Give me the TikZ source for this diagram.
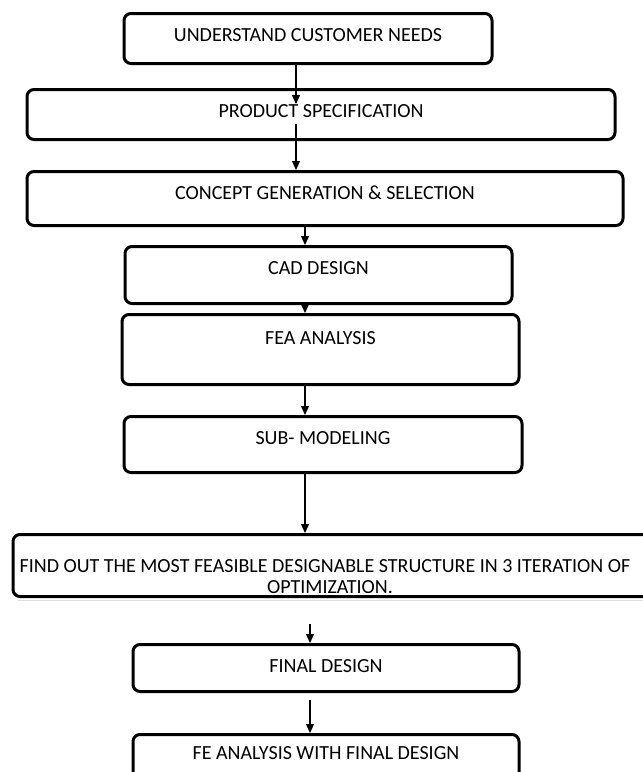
\documentclass[tikz,border=0pt]{standalone}
\usepackage{fontspec}
\setmainfont{Carlito}
\usepackage{tikz}
\usetikzlibrary{arrows.meta}
\tikzset{
  stage/.style={draw=black, line width=3pt, rounded corners=7pt, inner sep=0pt,
    text height=28pt, align=center, font=\fontsize{20}{21}\selectfont},
  flow/.style={line width=1.2pt, -{Triangle[length=9pt,width=8pt]}}
}
\begin{document}
\begin{tikzpicture}[x=1pt,y=-1pt]
\useasboundingbox (0,0) rectangle (643,772);
\draw[black!12, line width=1pt] (18,600) -- (643,600);

\node[stage, anchor=north, minimum width=368pt, text depth=22pt] (needs) at (308,12) {UNDERSTAND CUSTOMER NEEDS};
\node[stage, anchor=north, minimum width=588pt, text depth=22pt] (spec) at (321,88) {PRODUCT SPECIFICATION};
\node[stage, anchor=north, minimum width=596pt, text depth=26pt] (concept) at (325,170) {CONCEPT GENERATION \& SELECTION};
\node[stage, anchor=north, minimum width=387pt, text depth=29pt] (cad) at (318.5,245) {CAD DESIGN};
\node[stage, anchor=north, minimum width=397pt, text depth=40pt, text height=30pt] (fea) at (320.5,313) {FEA ANALYSIS};
\node[stage, anchor=north, minimum width=398pt, text depth=28pt] (submodel) at (323,415) {SUB- MODELING};
\node[stage, anchor=north, minimum width=664pt, text depth=3pt, text height=59pt] (feasible) at (345,533)
  {\hspace*{-40pt}FIND OUT THE MOST FEASIBLE DESIGNABLE STRUCTURE IN 3 ITERATION OF\\\hspace*{-30pt}OPTIMIZATION.};
\node[stage, anchor=north, minimum width=386pt, text depth=19pt] (final) at (326,643) {FINAL DESIGN};
\node[stage, anchor=north, minimum width=386pt, text depth=40pt, text height=25pt] (analysis) at (326,733) {FE ANALYSIS WITH FINAL DESIGN};

\coordinate (a1) at (296,104);
\coordinate (a2) at (296,124);
\coordinate (c1) at (305,0);
\coordinate (a7) at (310,624);
\coordinate (a8) at (310,700);
\draw[flow] (needs.south -| a1) -- (a1);
\draw[flow] (a2) -- (concept.north -| a2);
\draw[flow] (concept.south -| c1) -- (cad.north -| c1);
\draw[flow] (cad.south -| c1) -- (fea.north -| c1);
\draw[flow] (fea.south -| c1) -- (submodel.north -| c1);
\draw[flow] (submodel.south -| c1) -- (feasible.north -| c1);
\draw[flow] (a7) -- (final.north -| a7);
\draw[flow] (a8) -- (analysis.north -| a8);
\end{tikzpicture}
\end{document}
